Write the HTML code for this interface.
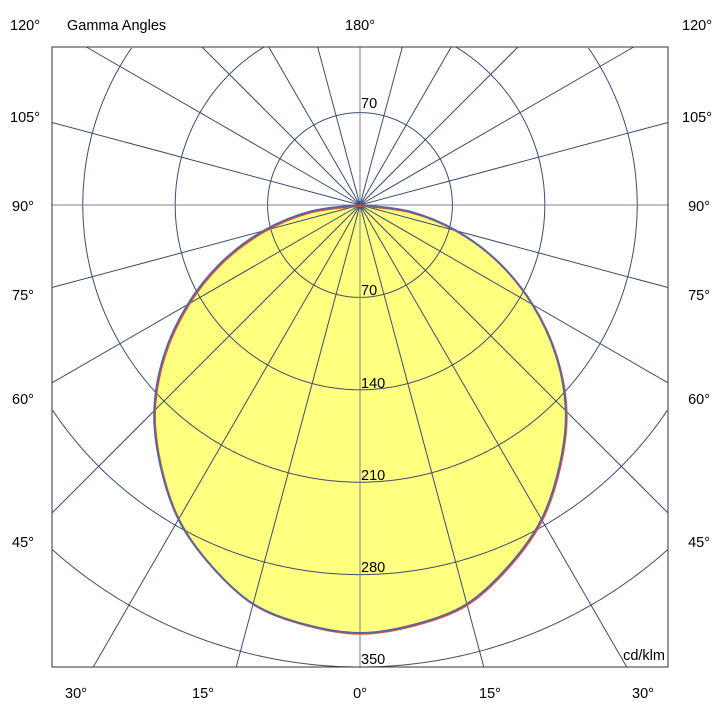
<!DOCTYPE html>
<html><head><meta charset="utf-8"><style>
html,body{margin:0;padding:0;background:#fff;overflow:hidden;width:720px;height:720px}
svg{display:block}
svg text{font-family:"Liberation Sans",sans-serif;font-size:14.5px;fill:#000}
</style></head><body>
<svg width="720" height="720" viewBox="0 0 720 720" xmlns="http://www.w3.org/2000/svg">
<g id="plot"></g>
<rect x="52" y="47" width="616" height="620" fill="none" stroke="#333" stroke-width="1"/>
<text x="10" y="30">120°</text><text x="67" y="30">Gamma Angles</text>
<text x="360" y="30" text-anchor="middle">180°</text><text x="712" y="30" text-anchor="end">120°</text>
<text x="10" y="122">105°</text><text x="712" y="122" text-anchor="end">105°</text>
<text x="12" y="211">90°</text><text x="710" y="211" text-anchor="end">90°</text>
<text x="12" y="300">75°</text><text x="710" y="300" text-anchor="end">75°</text>
<text x="12" y="404">60°</text><text x="710" y="404" text-anchor="end">60°</text>
<text x="12" y="547">45°</text><text x="710" y="547" text-anchor="end">45°</text>
<text x="76" y="698" text-anchor="middle">30°</text><text x="203" y="698" text-anchor="middle">15°</text>
<text x="360" y="698" text-anchor="middle">0°</text><text x="490" y="698" text-anchor="middle">15°</text>
<text x="643" y="698" text-anchor="middle">30°</text>
<text x="665" y="660" text-anchor="end">cd/klm</text>
<text x="361" y="108">70</text><text x="361" y="295">70</text><text x="361" y="388">140</text>
<text x="361" y="480">210</text><text x="361" y="572">280</text><text x="361" y="664">350</text>
</svg>
<script>
const ns="http://www.w3.org/2000/svg",g=document.getElementById("plot");
const cx=360,cy=205,R=92.4,X0=52,X1=668,Y0=47,Y1=667;
function el(t,a){const e=document.createElementNS(ns,t);for(const k in a)e.setAttribute(k,a[k]);g.appendChild(e);return e;}
const data=[[0,428],[7.5,423],[15,413],[22.5,390],[30,363],[37.5,328],[45,291],[52.5,247],[60,199],[67.5,150],[75,100],[82.5,50],[90,0]];
function path(p){let d="M"+p[0];for(let i=0;i<p.length-1;i++){const p0=p[Math.max(i-1,0)],p1=p[i],p2=p[i+1],p3=p[Math.min(i+2,p.length-1)];
const c1=[p1[0]+(p2[0]-p0[0])/6,p1[1]+(p2[1]-p0[1])/6],c2=[p2[0]-(p3[0]-p1[0])/6,p2[1]-(p3[1]-p1[1])/6];d+=" C"+c1+" "+c2+" "+p2;}return d+"Z";}
let L=data.map(([a,r])=>{const t=a*Math.PI/180;return [cx-r*Math.sin(t),cy+r*Math.cos(t)];}).reverse();
let Rr=data.map(([a,r])=>{const t=a*Math.PI/180;return [cx+r*Math.sin(t),cy+r*Math.cos(t)];});
const d=path(L.concat(Rr.slice(1)));
el("path",{d:d,fill:"#ffff80",stroke:"none"});
const inside=(x,y)=>x>=X0&&x<=X1&&y>=Y0&&y<=Y1;
for(let k=1;k<=7;k++){const r=R*k;let dd="",pen=false;
 for(let i=0;i<=1440;i++){const a=i/1440*2*Math.PI;let x=cx+r*Math.cos(a),y=cy+r*Math.sin(a);
  if(inside(x,y)){dd+=(pen?"L":"M")+x.toFixed(1)+","+y.toFixed(1);pen=true;}else pen=false;}
 if(dd)el("path",{d:dd,fill:"none",stroke:"#3c4c70","stroke-width":1});}
for(let i=0;i<24;i++){const t=i*15*Math.PI/180;const dx=Math.sin(t),dy=Math.cos(t);
let s=1e9;if(dx>1e-9)s=Math.min(s,(X1-cx)/dx);if(dx<-1e-9)s=Math.min(s,(X0-cx)/dx);if(dy>1e-9)s=Math.min(s,(Y1-cy)/dy);if(dy<-1e-9)s=Math.min(s,(Y0-cy)/dy);
el("line",{x1:cx,y1:cy,x2:(cx+s*dx).toFixed(2),y2:(cy+s*dy).toFixed(2),stroke:(i%6==0)?"#7a8090":"#3c4c70","stroke-width":1});}
el("path",{d:d,fill:"none",stroke:"#f05030","stroke-width":2,transform:"translate(0.8,0.8)"});
el("path",{d:d,fill:"none",stroke:"#5866a0","stroke-width":2});
</script>
</body></html>
